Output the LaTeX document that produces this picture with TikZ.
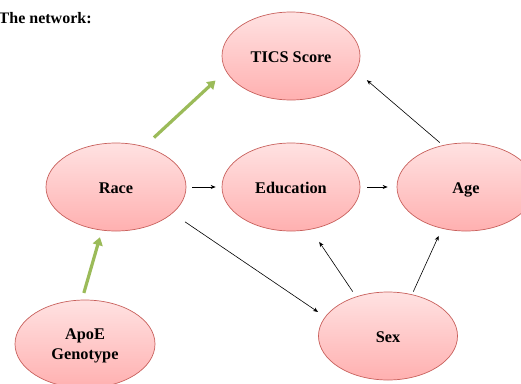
\documentclass[tikz,border=0pt]{standalone}
\usepackage{fontspec}
\setmainfont{Liberation Serif}
\usetikzlibrary{shapes.geometric,arrows.meta}
\definecolor{ovalTop}{HTML}{FFE2E2}
\definecolor{ovalBot}{HTML}{FFB0B0}
\definecolor{ovalLine}{HTML}{C8605C}
\definecolor{linkGreen}{HTML}{9BBB59}
\tikzset{
  oval/.style={ellipse, draw=ovalLine, line width=0.7pt,
    top color=ovalTop, bottom color=ovalBot,
    minimum width=140pt, minimum height=88pt, inner sep=0pt,
    font=\fontsize{16.3}{19.5}\selectfont\bfseries, align=center,
    text depth=0pt},
  oneline/.style={text height=12pt},
  thinlink/.style={-{Stealth[length=5pt,width=4pt]}, line width=0.6pt, black},
  greenlink/.style={-{Triangle[length=8pt,width=10pt]}, line width=3.2pt, linkGreen},
  heading/.style={font=\fontsize{16}{19}\selectfont\bfseries, anchor=base west, inner sep=0pt}
}
\begin{document}
\begin{tikzpicture}[x=1pt,y=-1pt]
  \useasboundingbox (0,0) rectangle (521,383);
  \node[heading] (title) at (-1.5,23) {The network:};

  \node[oval, oneline, minimum width=138pt] (tics) at (291,56)  {TICS Score};
  \node[oval, oneline] (race) at (116,187) {Race};
  \node[oval, oneline, minimum width=138pt] (edu)  at (291,187) {Education};
  \node[oval, oneline, minimum width=138pt] (age)  at (466,187) {Age};
  \node[oval] (apoe) at (85,344)  {ApoE\\Genotype};
  \node[oval, oneline, minimum width=139pt] (sex)  at (388,336) {Sex};

  % thick green links
  \draw[greenlink, shorten <=13pt, shorten >=14pt] (race.55) -- (tics.193);
  \draw[greenlink, shorten <=7pt, shorten >=7pt] (apoe.94) -- (race.252);

  % thin black links
  \draw[thinlink, shorten <=6pt, shorten >=6pt] (race.0) -- (edu.180);
  \draw[thinlink, shorten <=7pt, shorten >=9pt] (edu.0) -- (age.180);
  \draw[thinlink, shorten <=4pt, shorten >=14pt] (age.119) -- (tics.347);
  \draw[thinlink, shorten <=15pt, shorten >=8.5pt] (race.335) -- (sex.163);
  \draw[thinlink, shorten <=6pt, shorten >=15pt] (sex.129) -- (edu.295);
  \draw[thinlink, shorten <=3pt, shorten >=8pt] (sex.60) -- (age.240);
\end{tikzpicture}
\end{document}
